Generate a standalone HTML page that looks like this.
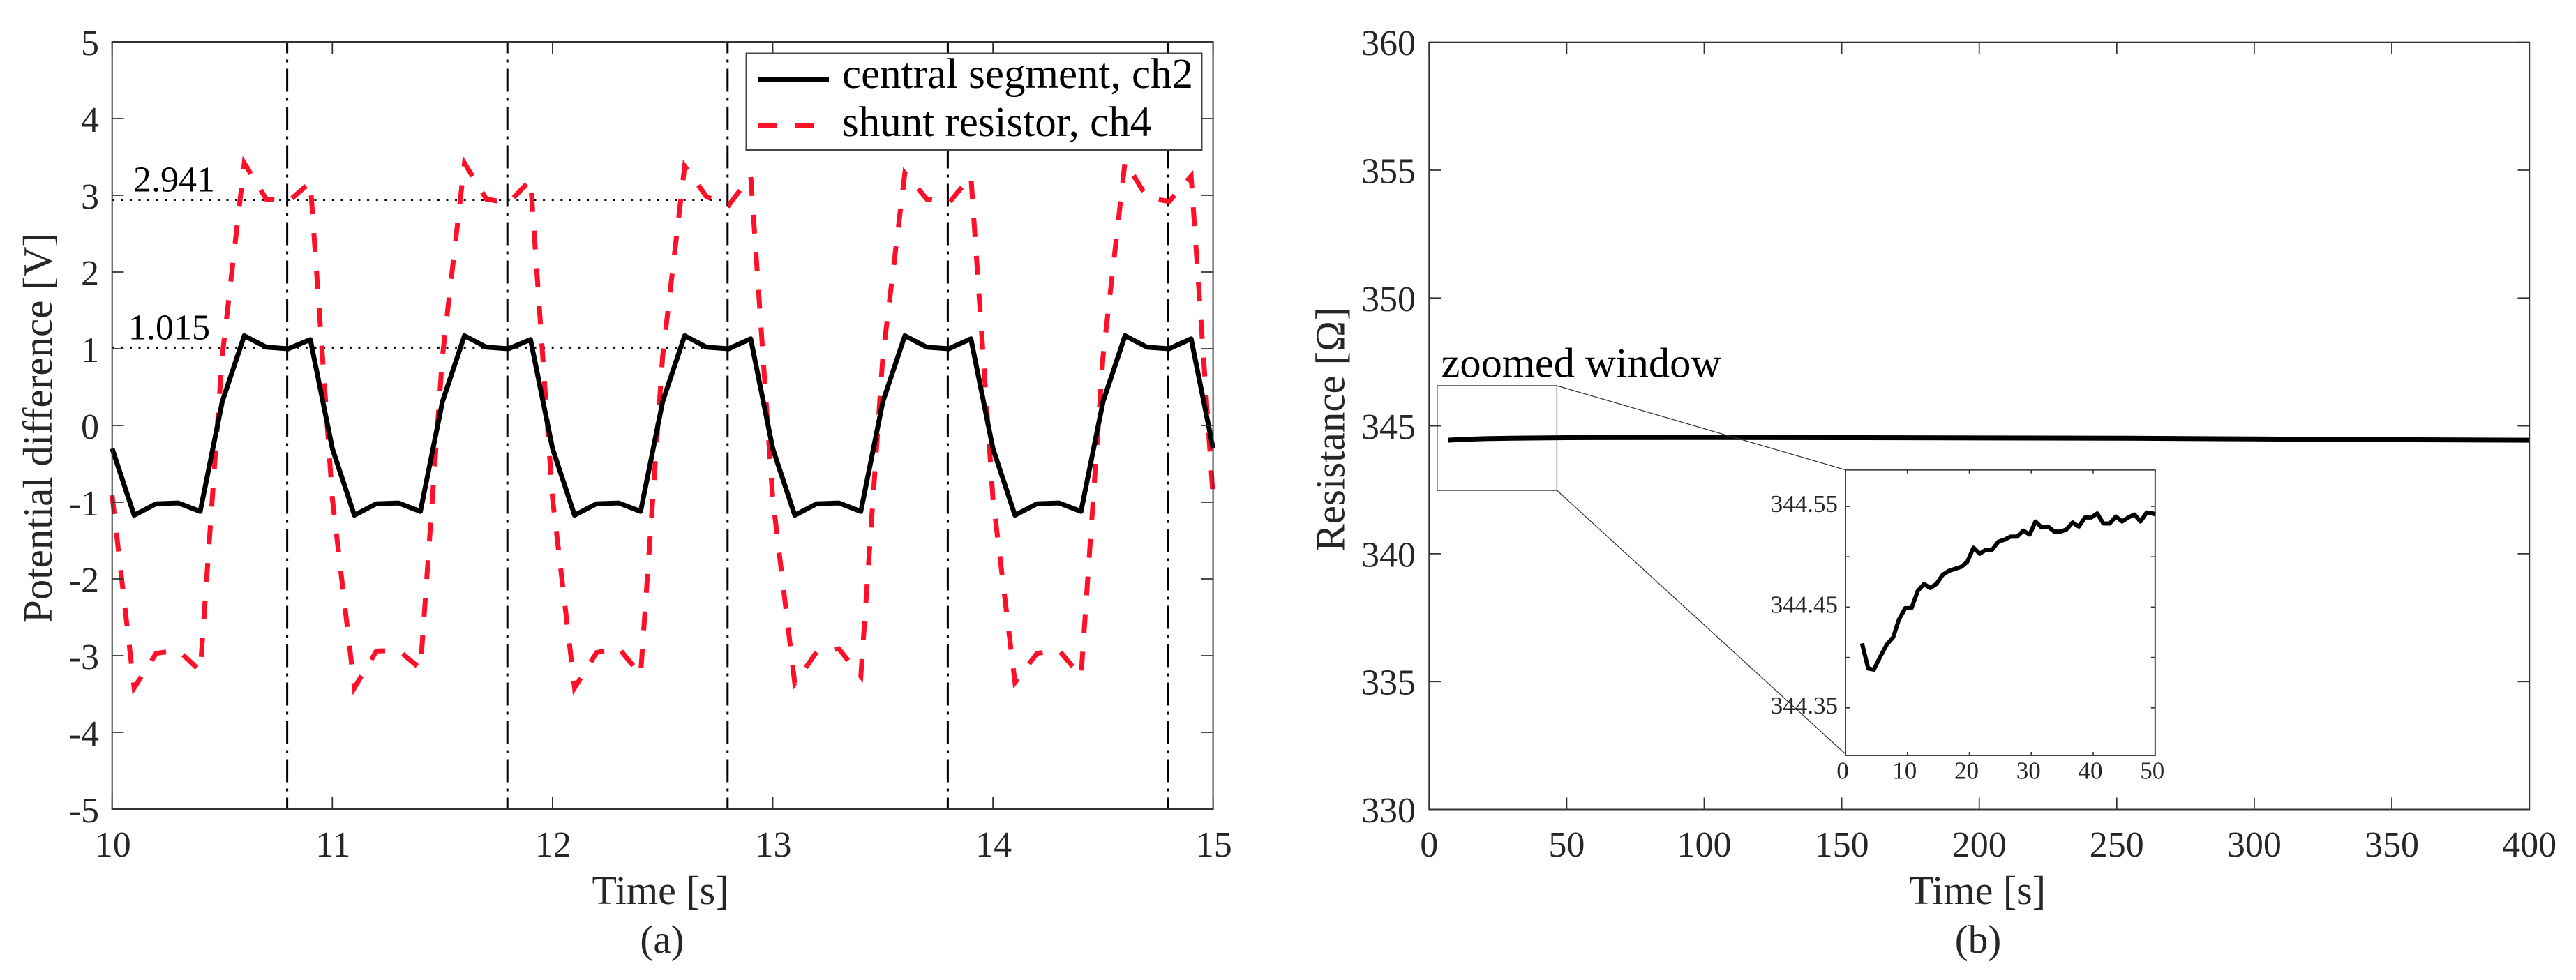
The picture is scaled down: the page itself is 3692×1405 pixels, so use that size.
<!DOCTYPE html>
<html lang="en">
<head>
<meta charset="utf-8">
<title>Potential difference and resistance over time</title>
<style>
html,body{margin:0;padding:0;background:#fff;}
svg{display:block;}
text{font-family:"Liberation Serif",serif;}
</style>
</head>
<body>
<svg id="figure" xmlns="http://www.w3.org/2000/svg" width="3692" height="1405" viewBox="0 0 3692 1405">
  <rect x="0" y="0" width="3692" height="1405" fill="#fff"/>

  <g id="panel-a">
    <g id="a-markers"></g>
    <g id="a-refs"></g>
    <g id="a-series"></g>
    <g id="a-axes"></g>
    <text x="191" y="274.5" font-size="52" fill="#000">2.941</text>
    <text x="184" y="486.5" font-size="52" fill="#000">1.015</text>
    <text transform="translate(74,613.5) rotate(-90)" text-anchor="middle" font-size="59" fill="#262626">Potential difference [V]</text>
    <text x="946.5" y="1296" text-anchor="middle" font-size="58" fill="#262626">Time [s]</text>
    <text x="949" y="1366" text-anchor="middle" font-size="57" fill="#262626">(a)</text>
    <g>
      <rect x="1069.5" y="76.5" width="653" height="138.5" fill="#fff" stroke="#444" stroke-width="2"/>
      <line x1="1086.5" y1="114" x2="1188" y2="114" stroke="#000" stroke-width="8"/>
      <text x="1207" y="126" font-size="61" fill="#000">central segment, ch2</text>
      <line x1="1086.5" y1="180" x2="1168" y2="180" stroke="#ff1029" stroke-width="7.5" stroke-dasharray="27 26"/>
      <text x="1207" y="195" font-size="61" fill="#000">shunt resistor, ch4</text>
    </g>
  </g>

  <g id="panel-b">
    <g id="b-series"></g>
    <g id="b-axes"></g>
    <text transform="translate(1926.5,615.5) rotate(-90)" text-anchor="middle" font-size="59" fill="#262626">Resistance [Ω]</text>
    <text x="2834" y="1296" text-anchor="middle" font-size="58" fill="#262626">Time [s]</text>
    <text x="2835" y="1366" text-anchor="middle" font-size="57" fill="#262626">(b)</text>
    <text x="2065.5" y="540.5" font-size="60.5" fill="#000">zoomed window</text>
    <g>
      <rect x="2059.8" y="553" width="171.6" height="150" fill="none" stroke="#222" stroke-width="1.3"/>
      <line x1="2231.4" y1="553" x2="2645" y2="673.7" stroke="#333" stroke-width="1.2"/>
      <line x1="2231.4" y1="703" x2="2645" y2="1081" stroke="#333" stroke-width="1.2"/>
    </g>
    <g id="inset"></g>
  </g>
</svg>
<script>
/* Panel (a) data */
const timeA = [10.0,10.1,10.2,10.3,10.4,10.5,10.6,10.7,10.8,10.9,
  11.0,11.1,11.2,11.3,11.4,11.5,11.6,11.7,11.8,11.9,
  12.0,12.1,12.2,12.3,12.4,12.5,12.6,12.7,12.8,12.9,
  13.0,13.1,13.2,13.3,13.4,13.5,13.6,13.7,13.8,13.9,
  14.0,14.1,14.2,14.3,14.4,14.5,14.6,14.7,14.8,14.9,15.0];
const centralCh2 = [-0.30,-1.17,-1.02,-1.01,-1.12,0.31,1.17,1.02,1.00,1.12,
  -0.30,-1.17,-1.02,-1.01,-1.12,0.31,1.17,1.02,1.00,1.12,
  -0.30,-1.17,-1.02,-1.01,-1.12,0.31,1.17,1.02,1.00,1.13,
  -0.30,-1.17,-1.02,-1.01,-1.12,0.31,1.17,1.02,1.00,1.13,
  -0.30,-1.17,-1.02,-1.01,-1.12,0.31,1.17,1.02,1.00,1.13,-0.30];
const shuntCh4 = [-0.91,-3.42,-2.97,-2.93,-3.20,0.90,3.42,2.95,2.92,3.17,
  -0.95,-3.42,-2.94,-2.93,-3.17,0.90,3.42,2.95,2.90,3.20,
  -0.95,-3.42,-2.96,-2.90,-3.25,0.90,3.38,2.98,2.87,3.25,
  -0.95,-3.36,-2.95,-2.91,-3.27,0.90,3.29,2.95,2.90,3.25,
  -0.95,-3.35,-2.97,-2.93,-3.27,0.90,3.44,2.97,2.92,3.25,-0.95];
const markerTimes = [10.795,11.795,12.795,13.795,14.795];
const refValues = [2.941,1.015];
const refEndTime = 12.78;
const xTicksA = [10,11,12,13,14,15];
const yTicksA = [5,4,3,2,1,0,-1,-2,-3,-4,-5];

/* Panel (b) data */
const timeB = [6.8,12,20,30,50,100,150,200,250,300,350,400];
const resistanceB = [344.44,344.47,344.50,344.52,344.54,344.545,344.54,344.53,344.52,344.49,344.46,344.44];
const xTicksB = [0,50,100,150,200,250,300,350,400];
const yTicksB = [360,355,350,345,340,335,330];

/* Inset data */
const timeInset = [2.67,3.67,4.58,5.63,6.69,7.70,8.65,9.66,10.66,11.67,12.68,13.68,14.69,15.69,16.7,17.7,18.7,19.67,20.67,21.68,22.69,23.69,24.7,25.7,26.66,27.72,28.72,29.73,30.68,31.69,32.7,33.7,34.71,35.66,36.67,37.68,38.68,39.69,40.64,41.65,42.66,43.66,44.67,45.67,46.63,47.64,48.64,49.65,50];
const resistanceInset = [344.414,344.389,344.388,344.401,344.413,344.420,344.438,344.449,344.449,344.466,344.473,344.469,344.473,344.482,344.486,344.488,344.490,344.495,344.509,344.503,344.507,344.507,344.515,344.517,344.520,344.520,344.526,344.522,344.535,344.529,344.530,344.525,344.525,344.527,344.534,344.530,344.539,344.539,344.543,344.533,344.533,344.540,344.535,344.539,344.542,344.535,344.544,344.543,344.542];
const xTicksInset = [0,10,20,30,40,50];
const yTicksInset = [344.55,344.5,344.45,344.4,344.35];
const yLabelsInset = [344.55,344.45,344.35];

/* Axis scales */
function xA(t){return 160.7+(t-10)*315.6;}
function yA(v){return 60+(5-v)*110;}
function xB(t){return 2048.3+t*3.942;}
function yB(v){return 60.7+(360-v)*36.66;}
function xI(t){return 2645+t*8.876;}
function yI(v){return 726+(344.55-v)*1444;}

const NS='http://www.w3.org/2000/svg';
function mk(tag,parent,attrs,txt){
  const el=document.createElementNS(NS,tag);
  for(const k in attrs){el.setAttribute(k,attrs[k]);}
  if(txt!==undefined){el.textContent=txt;}
  parent.appendChild(el);
  return el;
}
function pathOf(ts,vs,fx,fy){
  return ts.map(function(t,i){return (i?'L':'M')+fx(t).toFixed(2)+' '+fy(vs[i]).toFixed(2);}).join(' ');
}

/* Panel (a) marks */
const aMarkers=document.getElementById('a-markers');
markerTimes.forEach(function(t){
  const el=mk('line',aMarkers,{x1:xA(t),x2:xA(t),y1:60,y2:1160,stroke:'#000','stroke-width':3,'stroke-dasharray':'33 9 4 9','stroke-dashoffset':'16.5'});
  
  
});
const aRefs=document.getElementById('a-refs');
refValues.forEach(function(v){
  const el=mk('line',aRefs,{x1:160.7,x2:xA(refEndTime),y1:yA(v),y2:yA(v),stroke:'#000','stroke-width':3,'stroke-dasharray':'3 9.6'});
  
  
});
const aSeries=document.getElementById('a-series');
const shuntPath=mk('path',aSeries,{d:pathOf(timeA,shuntCh4,xA,yA),fill:'none',stroke:'#ff1029','stroke-width':7,'stroke-dasharray':'27 27','stroke-linejoin':'miter'});


const centralPath=mk('path',aSeries,{d:pathOf(timeA,centralCh2,xA,yA),fill:'none',stroke:'#000','stroke-width':7,'stroke-linejoin':'round'});



const aAxes=document.getElementById('a-axes');
const aFrame=mk('rect',aAxes,{x:160.7,y:60,width:1577.9,height:1100,fill:'none',stroke:'#333','stroke-width':2});


xTicksA.forEach(function(t){
  const b=mk('line',aAxes,{x1:xA(t),x2:xA(t),y1:1160,y2:1143,stroke:'#333','stroke-width':1.8});
  
  
  const u=mk('line',aAxes,{x1:xA(t),x2:xA(t),y1:60,y2:77,stroke:'#333','stroke-width':1.8});
  
  
  const l=mk('text',aAxes,{x:xA(t)+1,y:1228,'text-anchor':'middle','font-size':52,fill:'#262626'},String(t));
  
  
});
yTicksA.forEach(function(v){
  const b=mk('line',aAxes,{x1:160.7,x2:177.5,y1:yA(v),y2:yA(v),stroke:'#333','stroke-width':1.8});
  
  
  const u=mk('line',aAxes,{x1:1738.6,x2:1721.8,y1:yA(v),y2:yA(v),stroke:'#333','stroke-width':1.8});
  
  
  const l=mk('text',aAxes,{x:142,y:yA(v)+19,'text-anchor':'end','font-size':52,fill:'#262626'},String(v));
  
  
});

/* Panel (b) marks */
const bSeries=document.getElementById('b-series');
const resPath=mk('path',bSeries,{d:pathOf(timeB,resistanceB,xB,yB),fill:'none',stroke:'#000','stroke-width':7});



const bAxes=document.getElementById('b-axes');
const bFrame=mk('rect',bAxes,{x:2048.3,y:60.7,width:1576.9,height:1099.8,fill:'none',stroke:'#333','stroke-width':2});


xTicksB.forEach(function(t){
  const b=mk('line',bAxes,{x1:xB(t),x2:xB(t),y1:1160.5,y2:1143.5,stroke:'#333','stroke-width':1.8});
  
  
  const u=mk('line',bAxes,{x1:xB(t),x2:xB(t),y1:60.7,y2:77.5,stroke:'#333','stroke-width':1.8});
  
  
  const l=mk('text',bAxes,{x:xB(t),y:1228,'text-anchor':'middle','font-size':52,fill:'#262626'},String(t));
  
  
});
yTicksB.forEach(function(v){
  const b=mk('line',bAxes,{x1:2048.3,x2:2065,y1:yB(v),y2:yB(v),stroke:'#333','stroke-width':1.8});
  
  
  const u=mk('line',bAxes,{x1:3625.2,x2:3608.5,y1:yB(v),y2:yB(v),stroke:'#333','stroke-width':1.8});
  
  
  const l=mk('text',bAxes,{x:2029,y:yB(v)+18.5,'text-anchor':'end','font-size':52,fill:'#262626'},String(v));
  
  
});

/* Inset marks */
const inset=document.getElementById('inset');
const inFrame=mk('rect',inset,{x:2645,y:673.7,width:443.8,height:409.3,fill:'#fff',stroke:'#444','stroke-width':2});


const inPath=mk('path',inset,{d:pathOf(timeInset,resistanceInset,xI,yI),fill:'none',stroke:'#000','stroke-width':6,'stroke-linejoin':'round'});


xTicksInset.forEach(function(t){
  const b=mk('line',inset,{x1:xI(t),x2:xI(t),y1:1083,y2:1078,stroke:'#333','stroke-width':1.6});
  
  
  const u=mk('line',inset,{x1:xI(t),x2:xI(t),y1:673.7,y2:678.7,stroke:'#333','stroke-width':1.6});
  
  
  const l=mk('text',inset,{x:xI(t)-4,y:1116.5,'text-anchor':'middle','font-size':35,fill:'#262626'},String(t));
  
  
});
yTicksInset.forEach(function(v){
  const b=mk('line',inset,{x1:2645,x2:2651,y1:yI(v),y2:yI(v),stroke:'#333','stroke-width':1.6});
  
  
  const u=mk('line',inset,{x1:3088.8,x2:3082.8,y1:yI(v),y2:yI(v),stroke:'#333','stroke-width':1.6});
  
  
});
yLabelsInset.forEach(function(v){
  const l=mk('text',inset,{x:2634,y:yI(v)+8,'text-anchor':'end','font-size':35,fill:'#262626'},v.toFixed(2));
  
  
});
</script>
</body>
</html>
